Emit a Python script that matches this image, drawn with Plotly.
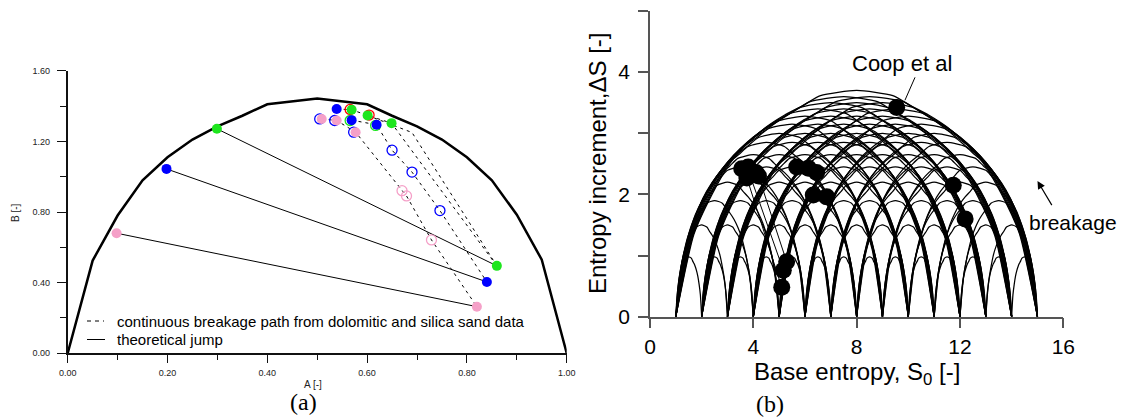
import plotly.graph_objects as go

W, H = 1128, 418
OFF = 8  # default page margin of the html body

# ---------------- Left panel (a): normalised A-B diagram ----------------
curve_A = [0.0, 0.05, 0.10, 0.15, 0.20, 0.25, 0.30, 0.35, 0.40, 0.50,
           0.60, 0.65, 0.70, 0.75, 0.80, 0.85, 0.90, 0.95, 1.0]
curve_B = [0.0, 0.525, 0.78, 0.98, 1.11, 1.21, 1.285, 1.345, 1.41, 1.443,
           1.41, 1.345, 1.285, 1.21, 1.11, 0.98, 0.785, 0.53, 0.0]

# theoretical jumps (start -> end)
jump_start_A = [0.299, 0.198, 0.098]
jump_start_B = [1.271, 1.044, 0.680]
jump_end_A = [0.860, 0.840, 0.820]
jump_end_B = [0.495, 0.404, 0.264]
jump_colors = ["#1ee61e", "#0000ff", "#f5a0c8"]

# continuous breakage paths (dashed)
path_pink_A = [0.509, 0.539, 0.577, 0.670, 0.679, 0.729, 0.820]
path_pink_B = [1.327, 1.318, 1.252, 0.921, 0.891, 0.642, 0.264]
path_blue_A = [0.569, 0.619, 0.650, 0.690, 0.746, 0.840]
path_blue_B = [1.320, 1.294, 1.150, 1.026, 0.808, 0.404]
path_green_A = [0.539, 0.569, 0.601, 0.649, 0.860]
path_green_B = [1.383, 1.379, 1.347, 1.303, 0.495]
path_green2_A = [0.601, 0.690, 0.860]
path_green2_B = [1.347, 1.250, 0.495]

# filled points
pink_fill_A = [0.509, 0.539, 0.577]
pink_fill_B = [1.327, 1.318, 1.252]
blue_fill_A = [0.539, 0.569, 0.619]
blue_fill_B = [1.383, 1.320, 1.294]
green_fill_A = [0.569, 0.601, 0.649]
green_fill_B = [1.379, 1.347, 1.303]
# open points
blue_open_A = [0.650, 0.690, 0.746]
blue_open_B = [1.150, 1.026, 0.808]
pink_open_A = [0.670, 0.679, 0.729]
pink_open_B = [0.921, 0.891, 0.642]
# rings drawn around some filled points
ring_blue_A = [0.505, 0.535, 0.573]
ring_blue_B = [1.327, 1.318, 1.252]
ring_green_A = [0.566, 0.617]
ring_green_B = [1.318, 1.290]
ring_red_A = [0.566, 0.604]
ring_red_B = [1.381, 1.349]

# ---------------- Right panel (b): S0 - dS diagram ----------------
arc_widths = [1, 2, 3, 4, 5, 6, 7, 8, 9, 10, 11, 12, 13, 14]
arc_heights = [0.98, 1.50, 1.90, 2.20, 2.45, 2.65, 2.85, 3.00, 3.15, 3.28,
               3.40, 3.50, 3.60, 3.70]
arc_start_min, arc_end_max = 1, 15

dots_S0 = [3.55, 3.80, 4.10, 3.75, 4.20, 5.68, 6.13, 6.45, 6.32, 6.84,
           5.29, 5.16, 5.10, 11.74, 12.20, 9.55]
dots_dS = [2.42, 2.45, 2.36, 2.27, 2.30, 2.45, 2.43, 2.36, 1.99, 1.96,
           0.90, 0.76, 0.48, 2.15, 1.60, 3.42]
link_from_S0 = [3.75, 3.90, 4.20]
link_from_dS = [2.27, 2.28, 2.30]
link_to_S0 = [5.10, 5.16, 5.29]
link_to_dS = [0.48, 0.76, 0.90]

fig = go.Figure()

# boundary curve
fig.add_trace(go.Scatter(x=curve_A, y=curve_B, mode="lines",
                         line=dict(color="black", width=2.5),
                         xaxis="x", yaxis="y", showlegend=False, hoverinfo="skip"))
# theoretical jumps
for a0, b0, a1, b1 in zip(jump_start_A, jump_start_B, jump_end_A, jump_end_B):
    fig.add_trace(go.Scatter(x=[a0, a1], y=[b0, b1], mode="lines",
                             line=dict(color="black", width=1),
                             xaxis="x", yaxis="y", showlegend=False))
# dashed paths
for pa, pb in [(path_pink_A, path_pink_B), (path_blue_A, path_blue_B),
               (path_green_A, path_green_B), (path_green2_A, path_green2_B)]:
    fig.add_trace(go.Scatter(x=pa, y=pb, mode="lines",
                             line=dict(color="black", width=1, dash="3px,4px"),
                             xaxis="x", yaxis="y", showlegend=False))

def ring(xa, ya, col):
    fig.add_trace(go.Scatter(x=xa, y=ya, mode="markers", xaxis="x", yaxis="y",
                             marker=dict(size=10, color="rgba(0,0,0,0)",
                                         line=dict(color=col, width=1.3)),
                             showlegend=False))

def filled(xa, ya, col):
    fig.add_trace(go.Scatter(x=xa, y=ya, mode="markers", xaxis="x", yaxis="y",
                             marker=dict(size=10, color=col, line=dict(width=0)),
                             showlegend=False))

ring(ring_blue_A, ring_blue_B, "#0000ff")
ring(ring_green_A, ring_green_B, "#1ee61e")
ring(ring_red_A, ring_red_B, "#ff0000")
filled(pink_fill_A, pink_fill_B, "#f5a0c8")
filled(green_fill_A, green_fill_B, "#1ee61e")
filled(blue_fill_A, blue_fill_B, "#0000ff")
ring(blue_open_A, blue_open_B, "#0000ff")
ring(pink_open_A, pink_open_B, "#f5a0c8")
# jump end points
filled(jump_start_A, jump_start_B, jump_colors)
filled(jump_end_A, jump_end_B, jump_colors)

# ---- right panel arcs (shape taken from the boundary curve of panel a)
bmax = max(curve_B)
ax_, ay_ = [], []
for w, h in zip(arc_widths, arc_heights):
    for a in range(arc_start_min, arc_end_max - w + 1):
        ax_ += [a + ca * w for ca in curve_A] + [None]
        ay_ += [cb / bmax * h for cb in curve_B] + [None]
fig.add_trace(go.Scatter(x=ax_, y=ay_, mode="lines", xaxis="x2", yaxis="y2",
                         line=dict(color="black", width=1.25, shape="spline", smoothing=0.6),
                         connectgaps=False, showlegend=False, hoverinfo="skip"))
for s0, d0, s1, d1 in zip(link_from_S0, link_from_dS, link_to_S0, link_to_dS):
    fig.add_trace(go.Scatter(x=[s0, s1], y=[d0, d1], mode="lines", xaxis="x2", yaxis="y2",
                             line=dict(color="black", width=1), showlegend=False))
fig.add_trace(go.Scatter(x=dots_S0, y=dots_dS, mode="markers", xaxis="x2", yaxis="y2",
                         marker=dict(size=17, color="black"), showlegend=False))

# ---------------- layout ----------------
def px(x):
    return (x - OFF) / W

def py(y):
    return (H - (y - OFF)) / H

small = dict(family="Liberation Sans, Arial, sans-serif", size=9, color="#222")
big = dict(family="Liberation Sans, Arial, sans-serif", size=21, color="black")

fig.update_layout(
    width=W, height=H, margin=dict(l=0, r=0, t=0, b=0, autoexpand=False),
    paper_bgcolor="white", plot_bgcolor="white", showlegend=False,
    xaxis=dict(domain=[px(67.7), px(566.7)], range=[0, 1], anchor="y", automargin=False,
               showgrid=False, zeroline=False, showline=True, linecolor="#111", linewidth=1.5,
               ticks="outside", ticklen=8, tickcolor="#111", tickwidth=1.2,
               tickvals=[0, 0.2, 0.4, 0.6, 0.8, 1.0], tickformat=".2f",
               tickfont=small, ticklabelstandoff=2,
               minor=dict(dtick=0.1, ticks="outside", ticklen=5, tickcolor="#111", tickwidth=1.2)),
    yaxis=dict(domain=[py(353.3), py(70.7)], range=[0, 1.6], anchor="x", automargin=False,
               showgrid=False, zeroline=False, showline=True, linecolor="#111", linewidth=1.5,
               ticks="outside", ticklen=9, tickcolor="#111", tickwidth=1.2,
               tickvals=[0, 0.4, 0.8, 1.2, 1.6], tickformat=".2f",
               tickfont=small, ticklabelstandoff=5,
               minor=dict(dtick=0.2, ticks="outside", ticklen=6, tickcolor="#111", tickwidth=1.2)),
    xaxis2=dict(domain=[px(650), px(1063.3)], range=[0, 16], anchor="y2", automargin=False,
                showgrid=False, zeroline=False, showline=True, linecolor="#555", linewidth=1.5,
                ticks="outside", ticklen=10, tickcolor="#555", tickwidth=1.5,
                tickvals=[0, 4, 8, 12, 16], tickfont=big, ticklabelstandoff=0),
    yaxis2=dict(domain=[py(316.7), py(11.0)], range=[0, 5], anchor="x2", automargin=False,
                showgrid=False, zeroline=False, showline=True, linecolor="#555", linewidth=1.5,
                ticks="outside", ticklen=10, tickcolor="#555", tickwidth=1.5,
                tickvals=[0, 2, 4], tickfont=big, ticklabelstandoff=4,
                minor=dict(dtick=1, ticks="outside", ticklen=10, tickcolor="#555", tickwidth=1.5)),
)

lab = dict(family="Liberation Sans, Arial, sans-serif", size=10, color="#222")
title_font = dict(family="Liberation Sans, Arial, sans-serif", size=24, color="black")
note_font = dict(family="Liberation Sans, Arial, sans-serif", size=22, color="black")
brk_font = dict(family="Liberation Sans, Arial, sans-serif", size=21, color="black")
serif = dict(family="Liberation Serif, Times New Roman, serif", size=24, color="black")
leg_font = dict(family="Liberation Sans, Arial, sans-serif", size=15, color="black")

C = dict(xanchor="center", yanchor="middle", showarrow=False)
ann = [
    dict(text="A [-]", x=px(313), y=py(384), xref="paper", yref="paper", font=lab, **C),
    dict(text="B [-]", x=px(16), y=py(213), xref="paper", yref="paper", font=lab,
         textangle=-90, **C),
    dict(text="(a)", x=px(303), y=py(402), xref="paper", yref="paper", font=serif, **C),
    dict(text="(b)", x=px(770), y=py(404), xref="paper", yref="paper", font=serif, **C),
    dict(text="Base entropy, S<sub>0</sub> [-]", x=px(857), y=py(373), xref="paper", yref="paper",
         font=title_font, **C),
    dict(text="Entropy increment,ΔS [-]", x=px(598), y=py(164), xref="paper", yref="paper",
         font=title_font, textangle=-90, **C),
    dict(text="continuous breakage path from dolomitic and silica sand data",
         x=px(115), y=py(321), xref="paper", yref="paper", xanchor="left", yanchor="middle",
         showarrow=False, font=leg_font),
    dict(text="theoretical jump", x=px(115), y=py(339.5), xref="paper", yref="paper",
         xanchor="left", yanchor="middle", showarrow=False, font=leg_font),
    dict(text="Coop et al", x=9.74, y=4.14, xref="x2", yref="y2", font=note_font, **C),
    dict(text="breakage", x=px(1073), y=py(222), xref="paper", yref="paper", font=brk_font, **C),
    dict(x=15.0, y=2.22, ax=15.59, ay=1.80, xref="x2", yref="y2", axref="x2", ayref="y2",
         text="", showarrow=True, arrowhead=2, arrowsize=1.3, arrowwidth=1.2, arrowcolor="black"),
]
fig.update_layout(annotations=ann)

shapes = [
    dict(type="line", xref="paper", yref="paper", x0=px(87), x1=px(104), y0=py(321), y1=py(321),
         line=dict(color="black", width=1, dash="4px,4px")),
    dict(type="line", xref="paper", yref="paper", x0=px(87), x1=px(105), y0=py(339.5), y1=py(339.5),
         line=dict(color="black", width=1)),
    dict(type="line", xref="x2", yref="y2", x0=10.26, y0=3.915, x1=9.87, y1=3.54,
         line=dict(color="black", width=1)),
]
fig.update_layout(shapes=shapes)

fig.write_html("out.html")
